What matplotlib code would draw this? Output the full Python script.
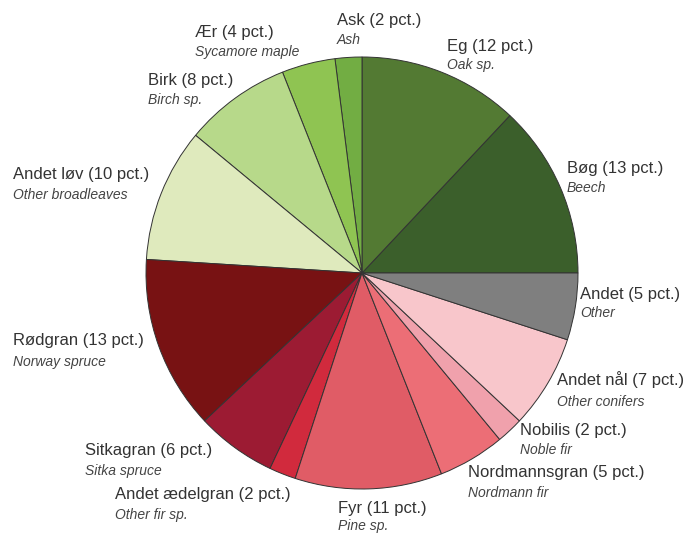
import matplotlib
matplotlib.use("Agg")
import matplotlib.pyplot as plt

names_dk = ["Bøg", "Eg", "Ask", "Ær", "Birk", "Andet løv", "Rødgran", "Sitkagran",
            "Andet ædelgran", "Fyr", "Nordmannsgran", "Nobilis", "Andet nål", "Andet"]
names_en = ["Beech", "Oak sp.", "Ash", "Sycamore maple", "Birch sp.", "Other broadleaves",
            "Norway spruce", "Sitka spruce", "Other fir sp.", "Pine sp.", "Nordmann fir",
            "Noble fir", "Other conifers", "Other"]
shares = [13, 12, 2, 4, 8, 10, 13, 6, 2, 11, 5, 2, 7, 5]
colors = ["#3b5f2b", "#537a33", "#72ad43", "#8fc452", "#b7d98a", "#dfeabd",
          "#781213", "#9c1b33", "#d12a3d", "#e05c66", "#ec6e76", "#f0a1ac",
          "#f8c6cb", "#7f7f7f"]

# label positions in pixels (left x, centre y of main line, centre y of sub line)
label_x = [567, 447, 337, 195, 148, 13, 13, 85, 115, 338, 468, 520, 557, 580]
label_y1 = [169, 46, 21, 33, 80, 174, 341, 451, 494, 508, 473, 430, 380, 295]
label_y2 = [188, 65, 40, 52, 100, 195, 362, 471, 515, 526, 493, 450, 402, 313]

W, H = 689, 535
fig = plt.figure(figsize=(W / 100, H / 100), dpi=100)
ax = fig.add_axes([0, 0, 1, 1])
ax.set_xlim(0, W)
ax.set_ylim(H, 0)
ax.set_aspect("equal")
ax.axis("off")

cx, cy, r = 362, 273, 216
wedges, _ = ax.pie(shares, colors=colors, startangle=0, counterclock=False,
                   center=(cx, cy), radius=r,
                   wedgeprops=dict(edgecolor="#333333", linewidth=0.7))
ax.set_xlim(0, W)
ax.set_ylim(H, 0)

for dk, en, s, x, y1, y2 in zip(names_dk, names_en, shares, label_x, label_y1, label_y2):
    ax.text(x, y1, f"{dk} ({s} pct.)", fontsize=12, family="Liberation Sans",
            color="#333333", va="center", ha="left")
    ax.text(x, y2, en, fontsize=10, family="Liberation Sans", style="italic",
            color="#444444", va="center", ha="left")

fig.savefig("out.png", dpi=100)
